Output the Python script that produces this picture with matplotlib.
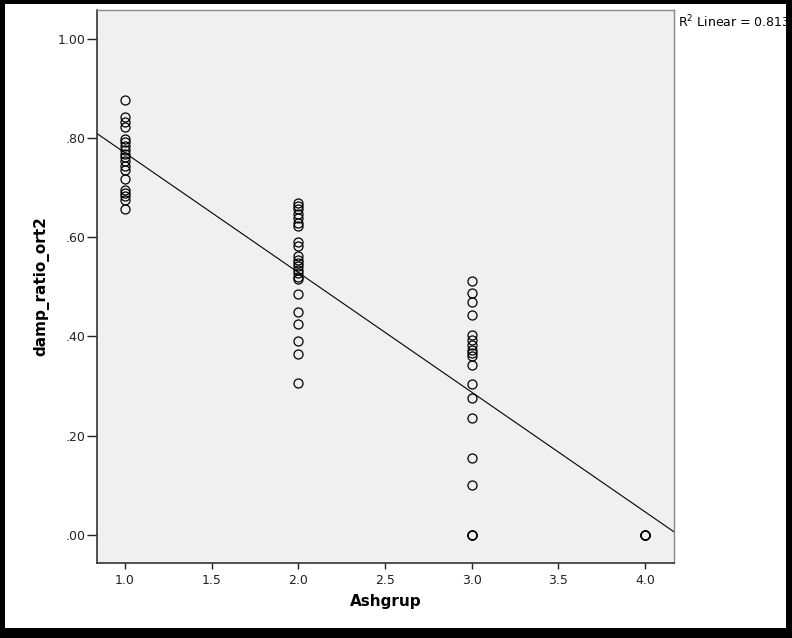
import matplotlib
matplotlib.use("Agg")
import matplotlib.pyplot as plt
import matplotlib.ticker as mticker
from matplotlib.patches import Rectangle
import numpy as np

# valeurs (Ashgrup -> damp_ratio_ort2)
grp1 = [0.877, 0.843, 0.833, 0.823, 0.798, 0.791, 0.783, 0.775, 0.768, 0.761,
        0.753, 0.744, 0.736, 0.718, 0.696, 0.689, 0.682, 0.675, 0.657]
grp2 = [0.669, 0.662, 0.657, 0.647, 0.638, 0.628, 0.623, 0.591, 0.583, 0.561,
        0.554, 0.548, 0.541, 0.534, 0.528, 0.520, 0.516, 0.486, 0.450, 0.425,
        0.390, 0.365, 0.306]
grp3 = [0.511, 0.487, 0.470, 0.444, 0.403, 0.393, 0.383, 0.373, 0.366, 0.360,
        0.343, 0.304, 0.276, 0.235, 0.155, 0.101, 0.0, 0.0, 0.0]
grp4 = [0.0, 0.0, 0.0, 0.0]
groups = [1.0, 2.0, 3.0, 4.0]
r2_label = "R$^2$ Linear = 0.813"

x = np.concatenate([np.full(len(g), k) for g, k in zip([grp1, grp2, grp3, grp4], groups)])
y = np.concatenate([grp1, grp2, grp3, grp4])

fig = plt.figure(figsize=(7.92, 6.38), dpi=100)
ax = fig.add_axes([0.1225, 0.1176, 0.7285, 0.8667])
ax.set_facecolor("#f0f0f0")

ax.plot(x, y, "o", markerfacecolor="none", markeredgecolor="black",
        markersize=6.5, markeredgewidth=0.9, zorder=3)

# droite de regression
slope, inter = np.polyfit(x, y, 1)
xl = np.array([0.838, 4.167])
ax.plot(xl, inter + slope * xl, color="black", linewidth=0.8, zorder=2)

ax.set_xlim(0.838, 4.167)
ax.set_ylim(-0.057, 1.058)
ax.set_xticks([1.0, 1.5, 2.0, 2.5, 3.0, 3.5, 4.0])
ax.set_yticks([0.0, 0.2, 0.4, 0.6, 0.8, 1.0])
ax.xaxis.set_major_formatter(mticker.FormatStrFormatter("%.1f"))
ax.yaxis.set_major_formatter(mticker.FuncFormatter(lambda v, p: ("%.2f" % v).lstrip("0") if v < 1 else "%.2f" % v))

ax.tick_params(axis="y", length=7, width=1, pad=1, labelsize=9, colors="#222222")
ax.tick_params(axis="x", length=4, width=1, pad=4, labelsize=9, colors="#222222")
for s in ["left", "bottom"]:
    ax.spines[s].set_color("#333333")
    ax.spines[s].set_linewidth(1.2)
for s in ["top", "right"]:
    ax.spines[s].set_color("#888888")
    ax.spines[s].set_linewidth(1.0)

ax.set_xlabel("Ashgrup", fontsize=11, fontweight="bold", labelpad=5)
ax.set_ylabel("damp_ratio_ort2", fontsize=11, fontweight="bold", labelpad=6)

fig.text(678 / 792, 1 - 22 / 638, r2_label, fontsize=9, va="center", ha="left")

# cadre noir autour de l'image
W, H = 792, 638
for (bx, by, bw, bh) in [(0, 0, 5, H), (W - 6, 0, 6, H), (0, H - 4, W, 4), (0, 0, W, 10)]:
    fig.patches.append(Rectangle((bx / W, by / H), bw / W, bh / H, transform=fig.transFigure,
                                 facecolor="black", edgecolor="none", zorder=10))

fig.savefig("out.png", dpi=100)
